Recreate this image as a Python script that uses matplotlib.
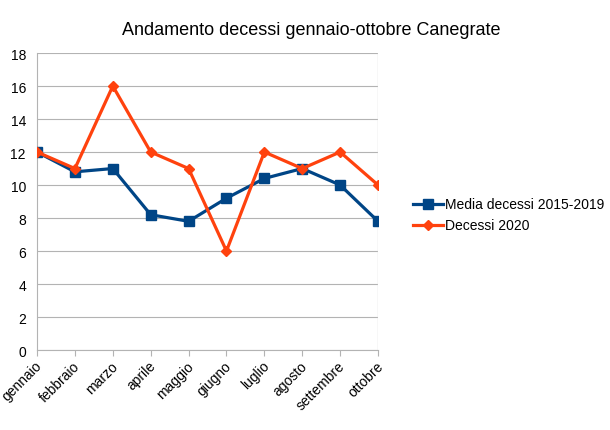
import matplotlib.pyplot as plt

months = ['gennaio', 'febbraio', 'marzo', 'aprile', 'maggio', 'giugno',
          'luglio', 'agosto', 'settembre', 'ottobre']
media = [12, 10.8, 11, 8.2, 7.8, 9.2, 10.4, 11, 10, 7.8]
decessi_2020 = [12, 11, 16, 12, 11, 6, 12, 11, 12, 10]
yticks = list(range(0, 20, 2))

plt.rcParams['font.family'] = ['Liberation Sans', 'DejaVu Sans']

fig = plt.figure(figsize=(6.1, 4.31), dpi=100)
ax = fig.add_axes([0.0607, 0.1856, 0.559, 0.689])

x = list(range(len(months)))
ax.plot(x, media, color='#004586', lw=2.3, marker='s', ms=7,
        label='Media decessi 2015-2019', zorder=3)
ax.plot(x, decessi_2020, color='#ff420e', lw=2.3, marker='D', ms=5.5,
        label='Decessi 2020', zorder=4)

ax.set_xlim(0, len(months) - 1)
ax.set_ylim(0, 18)
ax.set_yticks(yticks)
ax.set_xticks(x)
ax.set_xticklabels([])
# rotated month labels, ending just right of each tick
for xi, m in zip(x, months):
    ax.annotate(m, (xi, 0), xycoords=ax.get_xaxis_transform(),
                xytext=(-1.5, -6), textcoords='offset points', rotation=45,
                ha='right', va='top', rotation_mode='anchor', fontsize=10)
ax.tick_params(axis='both', labelsize=10, colors='#b3b3b3', labelcolor='black',
               length=4)
ax.tick_params(axis='y', length=0, pad=8)
ax.grid(axis='y', color='#b3b3b3', lw=0.8)
ax.axvline(len(months) - 1, color='#d9d9d9', lw=1)
for s in ['top', 'right']:
    ax.spines[s].set_visible(False)
for s in ['left', 'bottom']:
    ax.spines[s].set_color('#b3b3b3')

fig.suptitle('Andamento decessi gennaio-ottobre Canegrate', fontsize=13,
             y=0.95, x=0.51)
ax.legend(loc='center left', bbox_to_anchor=(1.065, 0.455), frameon=False,
          fontsize=10, handlelength=2.2, handletextpad=0.15, labelspacing=0.5)

fig.savefig('out.png', dpi=100)
